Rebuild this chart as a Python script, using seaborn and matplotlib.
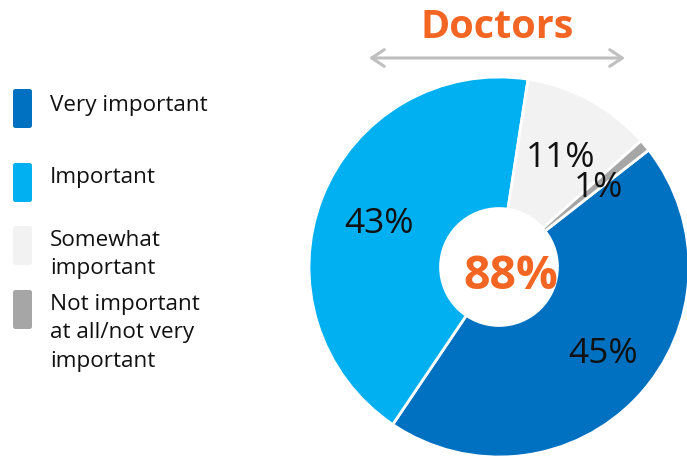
import matplotlib
matplotlib.use("Agg")
import numpy as np
import matplotlib.pyplot as plt
from matplotlib.patches import FancyBboxPatch, Circle
import seaborn as sns

# Survey shares, clockwise from the upper right
categories = ["Very important", "Important", "Somewhat important",
              "Not important at all/not very important"]
values = [45, 43, 11, 1]
legend_lines = [["Very important"], ["Important"], ["Somewhat", "important"],
                ["Not important", "at all/not very", "important"]]
title = "Doctors"
center_label = "88%"

sns.set_theme(style="white")
plt.rcParams["font.family"] = ["Open Sans", "DejaVu Sans"]

palette = sns.color_palette(["#0070C0", "#00B0F0", "#F2F2F2", "#A6A6A6"])
orange = "#F26522"
ink = "#111111"

W, H = 687, 458
fig = plt.figure(figsize=(W / 100, H / 100), dpi=100)
fig.patch.set_facecolor("white")

# Full-figure overlay in pixel units for the title and legend
ov = fig.add_axes([0, 0, 1, 1])
ov.set_xlim(0, W)
ov.set_ylim(H, 0)
ov.axis("off")

ov.text(497, 38, title, ha="center", va="baseline", fontsize=28.5,
        fontweight="bold", color=orange)
ov.annotate("", xy=(625, 58), xytext=(369, 58),
            arrowprops=dict(arrowstyle="<->,head_length=0.45,head_width=0.3",
                            color="#BFBFBF", lw=2.2, mutation_scale=20,
                            shrinkA=0, shrinkB=0))

# Legend: rounded swatches with wrapped labels
swatch_tops = [89, 163, 226, 290]
baselines = [[111], [183], [246, 274], [310, 338, 367]]
for color, top, lines, bls in zip(palette, swatch_tops, legend_lines, baselines):
    ov.add_patch(FancyBboxPatch((13, top), 19, 39,
                                boxstyle="round,pad=0,rounding_size=2.5",
                                facecolor=color, edgecolor="none"))
    for line, bl in zip(lines, bls):
        ov.text(50, bl, line, ha="left", va="baseline", fontsize=16.2,
                color=ink)

# Pie: centre (499, 267) px, radius 190 px
cx, cy, r = 499, 267, 190
ax = fig.add_axes([(cx - r) / W, (H - cy - r) / H, 2 * r / W, 2 * r / H])
wedges, texts, autotexts = ax.pie(
    values, colors=palette, startangle=38, counterclock=False,
    autopct=lambda p: f"{p:.0f}%", pctdistance=0.68,
    wedgeprops=dict(edgecolor="white", linewidth=2),
    textprops=dict(fontsize=25.5, color=ink))
ax.set_xlim(-1, 1)
ax.set_ylim(-1, 1)

# The largest share's label sits a little past the wedge's mid-angle
w0 = wedges[0]
mid = np.deg2rad((w0.theta1 + w0.theta2) / 2 + 4.5)
autotexts[0].set_position((0.70 * np.cos(mid), 0.70 * np.sin(mid)))
for a in autotexts:
    a.set_va("center_baseline")
    a.set_zorder(5)

ax.add_patch(Circle((0, 0), 0.315, facecolor="white", edgecolor="none",
                    zorder=3))
ax.text(0.06, -0.02, center_label, ha="center", va="center_baseline",
        fontsize=33.5, fontweight="bold", color=orange, zorder=4)

fig.savefig("out.png", dpi=100, facecolor="white")
